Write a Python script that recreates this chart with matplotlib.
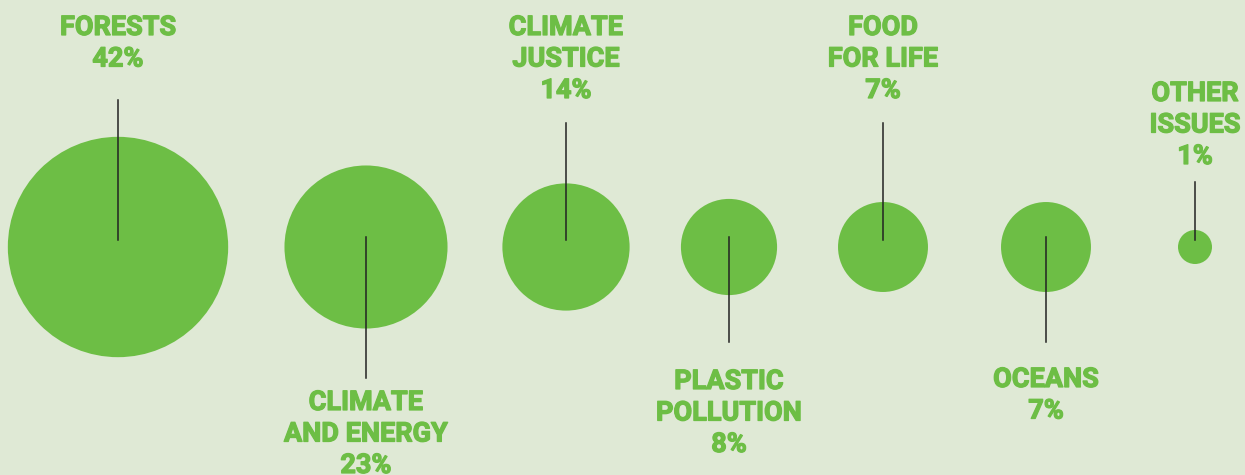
import numpy as np
import matplotlib.pyplot as plt
import matplotlib.patheffects as pe
from matplotlib.patches import Circle

BG = "#dfe9d5"
GREEN = "#6dbe45"

# data
categories = ["FORESTS", "CLIMATE\nAND ENERGY", "CLIMATE\nJUSTICE", "PLASTIC\nPOLLUTION",
              "FOOD\nFOR LIFE", "OCEANS", "OTHER\nISSUES"]
shares = [42, 23, 14, 8, 7, 7, 1]

# layout (pixel space)
centers_x = [118, 366, 566, 729, 883, 1046, 1195]
label_above = [True, False, True, False, True, False, True]
first_baseline = [35, 410, 35, 389, 35, 387, 101]
stem_end = [100, 378, 123, 342, 123, 342, 182]
center_y = 247
scale = 17.0
line_pitch = 31.5

fig = plt.figure(figsize=(12.45, 4.75), dpi=100, facecolor=BG)
ax = fig.add_axes([0, 0, 1, 1])
ax.set_facecolor(BG)
ax.set_xlim(0, 1245)
ax.set_ylim(475, 0)
ax.set_aspect("equal")
ax.axis("off")

bold = [pe.withStroke(linewidth=0.9, foreground=GREEN)]

for cat, v, x, above, b0, s_end in zip(categories, shares, centers_x,
                                        label_above, first_baseline, stem_end):
    r = scale * np.sqrt(v)
    ax.add_patch(Circle((x, center_y), r, color=GREEN, lw=0, zorder=1))
    y0 = center_y - 7 if above else center_y - 10
    ax.plot([x, x], [y0, s_end], color="#222222", lw=1.1, zorder=2)
    lines = cat.split("\n") + [f"{v}%"]
    for i, t in enumerate(lines):
        ax.text(x, b0 + i * line_pitch, t, ha="center", va="baseline",
                fontsize=19.5, fontweight="bold", family="Roboto", color=GREEN,
                path_effects=bold)

fig.savefig("out.png", dpi=100, facecolor=BG)
